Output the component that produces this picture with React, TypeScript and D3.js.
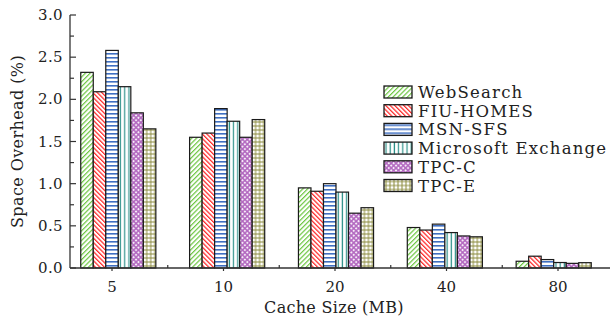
import React from "react";
import * as d3 from "d3";

const categories = ["5", "10", "20", "40", "80"];
const series = ["WebSearch", "FIU-HOMES", "MSN-SFS", "Microsoft Exchange", "TPC-C", "TPC-E"];
const webSearch = [2.32, 1.55, 0.95, 0.48, 0.08];
const fiuHomes = [2.09, 1.6, 0.91, 0.45, 0.14];
const msnSfs = [2.58, 1.89, 1.0, 0.52, 0.1];
const msExchange = [2.15, 1.74, 0.9, 0.42, 0.065];
const tpcC = [1.84, 1.55, 0.65, 0.38, 0.055];
const tpcE = [1.65, 1.76, 0.715, 0.37, 0.063];
const yTicks = [0, 0.5, 1.0, 1.5, 2.0, 2.5, 3.0];

const values = [webSearch, fiuHomes, msnSfs, msExchange, tpcC, tpcE];
const patternIds = ["pWeb", "pFiu", "pMsn", "pMse", "pTpcc", "pTpce"];

const W = 610;
const H = 324;
const font = "'DejaVu Serif', serif";

const Patterns = () => (
  <defs>
    <pattern id="pWeb" patternUnits="userSpaceOnUse" width="3.4" height="3.4" patternTransform="rotate(45)">
      <rect width="3.4" height="3.4" fill="#fff" />
      <line x1="0.6" y1="0" x2="0.6" y2="3.4" stroke="#6cc640" strokeWidth="1.2" />
    </pattern>
    <pattern id="pFiu" patternUnits="userSpaceOnUse" width="3.2" height="3.2" patternTransform="rotate(-45)">
      <rect width="3.2" height="3.2" fill="#fff" />
      <line x1="0.6" y1="0" x2="0.6" y2="3.2" stroke="#ff2a2a" strokeWidth="1.3" />
    </pattern>
    <pattern id="pMsn" patternUnits="userSpaceOnUse" width="4" height="4">
      <rect width="4" height="4" fill="#fff" />
      <rect y="1" width="4" height="1.6" fill="#3f6fc2" />
    </pattern>
    <pattern id="pMse" patternUnits="userSpaceOnUse" width="4.2" height="4">
      <rect width="4.2" height="4" fill="#fff" />
      <rect x="1.4" width="1.2" height="4" fill="#2c9089" />
    </pattern>
    <pattern id="pTpcc" patternUnits="userSpaceOnUse" width="3.4" height="3.4" patternTransform="rotate(45)">
      <rect width="3.4" height="3.4" fill="#b267c0" />
      <rect x="0.75" y="0.75" width="1.9" height="1.9" fill="#f6ecf8" />
    </pattern>
    <pattern id="pTpce" patternUnits="userSpaceOnUse" width="4" height="4">
      <rect width="4" height="4" fill="#fff" />
      <rect y="1.5" width="4" height="1" fill="#8c8c3e" />
      <rect x="1.5" width="1" height="4" fill="#8c8c3e" />
    </pattern>
  </defs>
);

export default function App() {
  const x = d3.scaleBand().domain(categories).range([47, 625]).paddingInner(0.31).paddingOuter(0.31);
  const xInner = d3.scaleBand().domain(series).range([0, x.bandwidth()]);
  const xLabel = d3.scalePoint().domain(categories).range([112, 558]);
  const y = d3.scaleLinear().domain([0, 3]).range([268, 15]);

  const minorY = d3.range(0, 3.01, 0.25);
  const labelPts = categories.map((c) => xLabel(c) as number);
  const midPts = labelPts.slice(0, -1).map((p, i) => (p + labelPts[i + 1]) / 2);

  return (
    <svg width={W} height={H} style={{ position: "absolute", left: 0, top: 0, background: "#fff" }}>
      <Patterns />

      {/* bars */}
      {categories.map((c, ci) => (
        <g key={c} transform={`translate(${x(c)},0)`}>
          {series.map((s, si) => {
            const v = values[si][ci];
            return (
              <rect
                key={s}
                x={xInner(s)}
                y={y(v)}
                width={xInner.bandwidth()}
                height={y(0) - y(v)}
                fill={`url(#${patternIds[si]})`}
                stroke="#1a1a1a"
                strokeWidth={1.2}
              />
            );
          })}
        </g>
      ))}

      {/* y axis */}
      <line x1={70} x2={70} y1={y(3)} y2={y(0)} stroke="#333" strokeWidth={1.3} />
      {minorY.map((t, i) => (
        <line key={t} x1={70} x2={i % 2 === 0 ? 76 : 74} y1={y(t)} y2={y(t)} stroke="#333" strokeWidth={1.2} />
      ))}
      {yTicks.map((t) => (
        <text key={t} x={63} y={y(t) + 5} textAnchor="end" fontFamily={font} fontSize={15} letterSpacing={0.4} fill="#222">
          {d3.format(".1f")(t)}
        </text>
      ))}

      {/* x axis */}
      <line x1={70} x2={610} y1={y(0)} y2={y(0)} stroke="#333" strokeWidth={1.3} />
      {labelPts.map((p) => (
        <line key={p} x1={p} x2={p} y1={y(0)} y2={y(0) + 3} stroke="#333" strokeWidth={1.2} />
      ))}
      {midPts.map((p) => (
        <line key={p} x1={p} x2={p} y1={y(0)} y2={y(0) - 3} stroke="#333" strokeWidth={1.2} />
      ))}
      {categories.map((c) => (
        <text key={c} x={xLabel(c)} y={292} textAnchor="middle" fontFamily={font} fontSize={15} fill="#222">
          {c}
        </text>
      ))}

      {/* axis titles */}
      <text x={334} y={313} textAnchor="middle" fontFamily={font} fontSize={16} letterSpacing={0.3} fill="#222">
        Cache Size (MB)
      </text>
      <text
        transform={`translate(23,${y(1.5)}) rotate(-90)`}
        textAnchor="middle"
        fontFamily={font}
        fontSize={16}
        letterSpacing={0.4}
        fill="#222"
      >
        Space Overhead (%)
      </text>

      {/* legend */}
      {series.map((s, i) => (
        <g key={s} transform={`translate(384,${86 + i * 18.7})`}>
          <rect width={28} height={12} fill={`url(#${patternIds[i]})`} stroke="#1a1a1a" strokeWidth={1.3} />
          <text x={34} y={12} fontFamily={font} fontSize={16.5} letterSpacing={1.2} fill="#222">
            {s}
          </text>
        </g>
      ))}
    </svg>
  );
}
